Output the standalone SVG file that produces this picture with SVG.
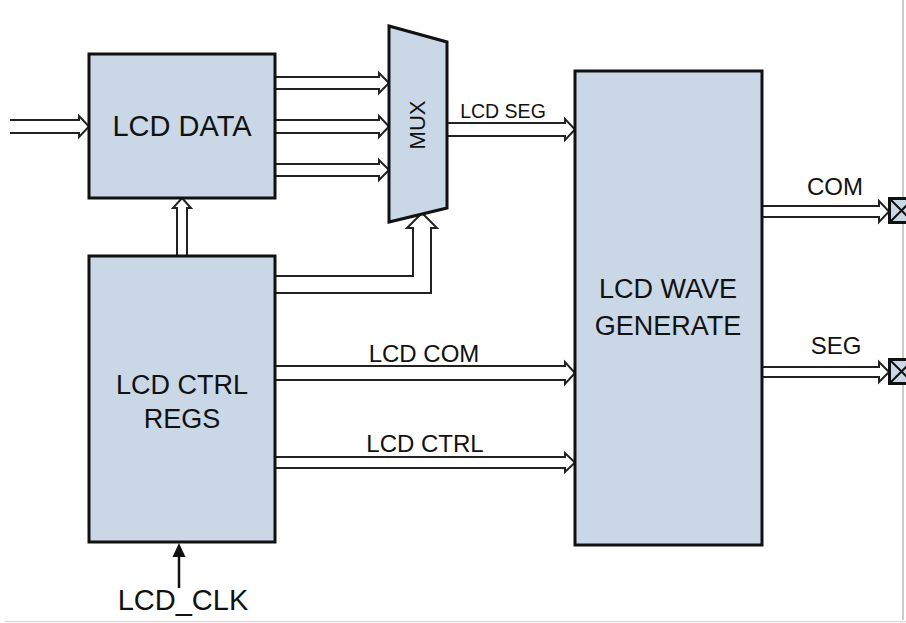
<svg xmlns="http://www.w3.org/2000/svg" width="906" height="623" viewBox="0 0 906 623">
<style>
.box{fill:#c9d7e6;stroke:#111;stroke-width:3}
.bus{fill:#fff;stroke:#222;stroke-width:2;stroke-linejoin:miter}
.t{font-family:"Liberation Sans",Arial,sans-serif;fill:#111;text-anchor:middle}
.pad{fill:#c9d7e6;stroke:#111;stroke-width:3}
</style>
<rect width="906" height="623" fill="#fff"/>
<line x1="903" y1="0" x2="903" y2="620" stroke="#bbb" stroke-width="1.5"/>
<line x1="5" y1="621.5" x2="906" y2="621.5" stroke="#ddd" stroke-width="1.5"/>
<g id="connectors">
  <path class="bus" d="M10 120 H79 V116 L89 126.5 L79 137 V133 H10"/>
  <path class="bus" d="M275 77 H379 V73 L389 83 L379 93 V89 H275"/>
  <path class="bus" d="M275 120 H379 V116 L389 126.5 L379 137 V133 H275"/>
  <path class="bus" d="M275 164 H379 V160 L389 170 L379 180 V176 H275"/>
  <path class="bus" d="M447 123 H565 V119 L575 129.5 L565 140 V136 H447"/>
  <path class="bus" d="M275 276 H413 V228 H407 L422 213 L437 228 H431 V293 H275"/>
  <path class="bus" d="M177 256 V208 H173 L182 198 L191 208 H187 V256"/>
  <path class="bus" d="M275 366 H565 V362 L575 373 L565 384 V380 H275"/>
  <path class="bus" d="M275 457 H565 V453 L575 462.5 L565 472 V468 H275"/>
  <path class="bus" d="M762 206 H879 V201 L889 211.5 L879 222 V217 H762"/>
  <path class="bus" d="M762 367 H879 V362 L889 372 L879 382 V377 H762"/>
  <line x1="179" y1="588" x2="179" y2="555" stroke="#111" stroke-width="2.5"/>
  <polygon points="172.5,557 185.5,557 179,543" fill="#111"/>
  <text class="t" x="503" y="118" font-size="19.5">LCD SEG</text>
  <text class="t" x="424" y="362" font-size="24">LCD COM</text>
  <text class="t" x="425" y="452" font-size="24">LCD CTRL</text>
  <text class="t" x="835" y="195" font-size="24">COM</text>
  <text class="t" x="836" y="354" font-size="24">SEG</text>
</g>
<g id="lcd-data">
  <rect class="box" x="89" y="54" width="186" height="144"/>
  <text class="t" x="182" y="136" font-size="29">LCD DATA</text>
</g>
<g id="mux">
  <polygon class="box" points="389,26 447,42 447,208 389,222"/>
  <text class="t" x="0" y="0" font-size="22" transform="translate(425,125) rotate(-90)">MUX</text>
</g>
<g id="lcd-ctrl-regs">
  <rect class="box" x="89" y="256" width="186" height="286"/>
  <text class="t" x="182" y="394" font-size="27">LCD CTRL</text>
  <text class="t" x="182" y="428" font-size="27">REGS</text>
</g>
<g id="lcd-wave-generate">
  <rect class="box" x="575" y="71" width="187" height="474"/>
  <text class="t" x="668" y="298" font-size="27">LCD WAVE</text>
  <text class="t" x="668" y="335" font-size="27">GENERATE</text>
</g>
<g id="lcd-clk">
  <text class="t" x="183" y="610" font-size="29">LCD_CLK</text>
</g>
<g id="pad-com">
  <rect class="pad" x="889.5" y="198.5" width="24" height="24"/>
  <path d="M889.5 198.5 L913.5 222.5 M889.5 222.5 L913.5 198.5" stroke="#111" stroke-width="2"/>
</g>
<g id="pad-seg">
  <rect class="pad" x="889.5" y="359.5" width="24" height="24"/>
  <path d="M889.5 359.5 L913.5 383.5 M889.5 383.5 L913.5 359.5" stroke="#111" stroke-width="2"/>
</g>
</svg>
